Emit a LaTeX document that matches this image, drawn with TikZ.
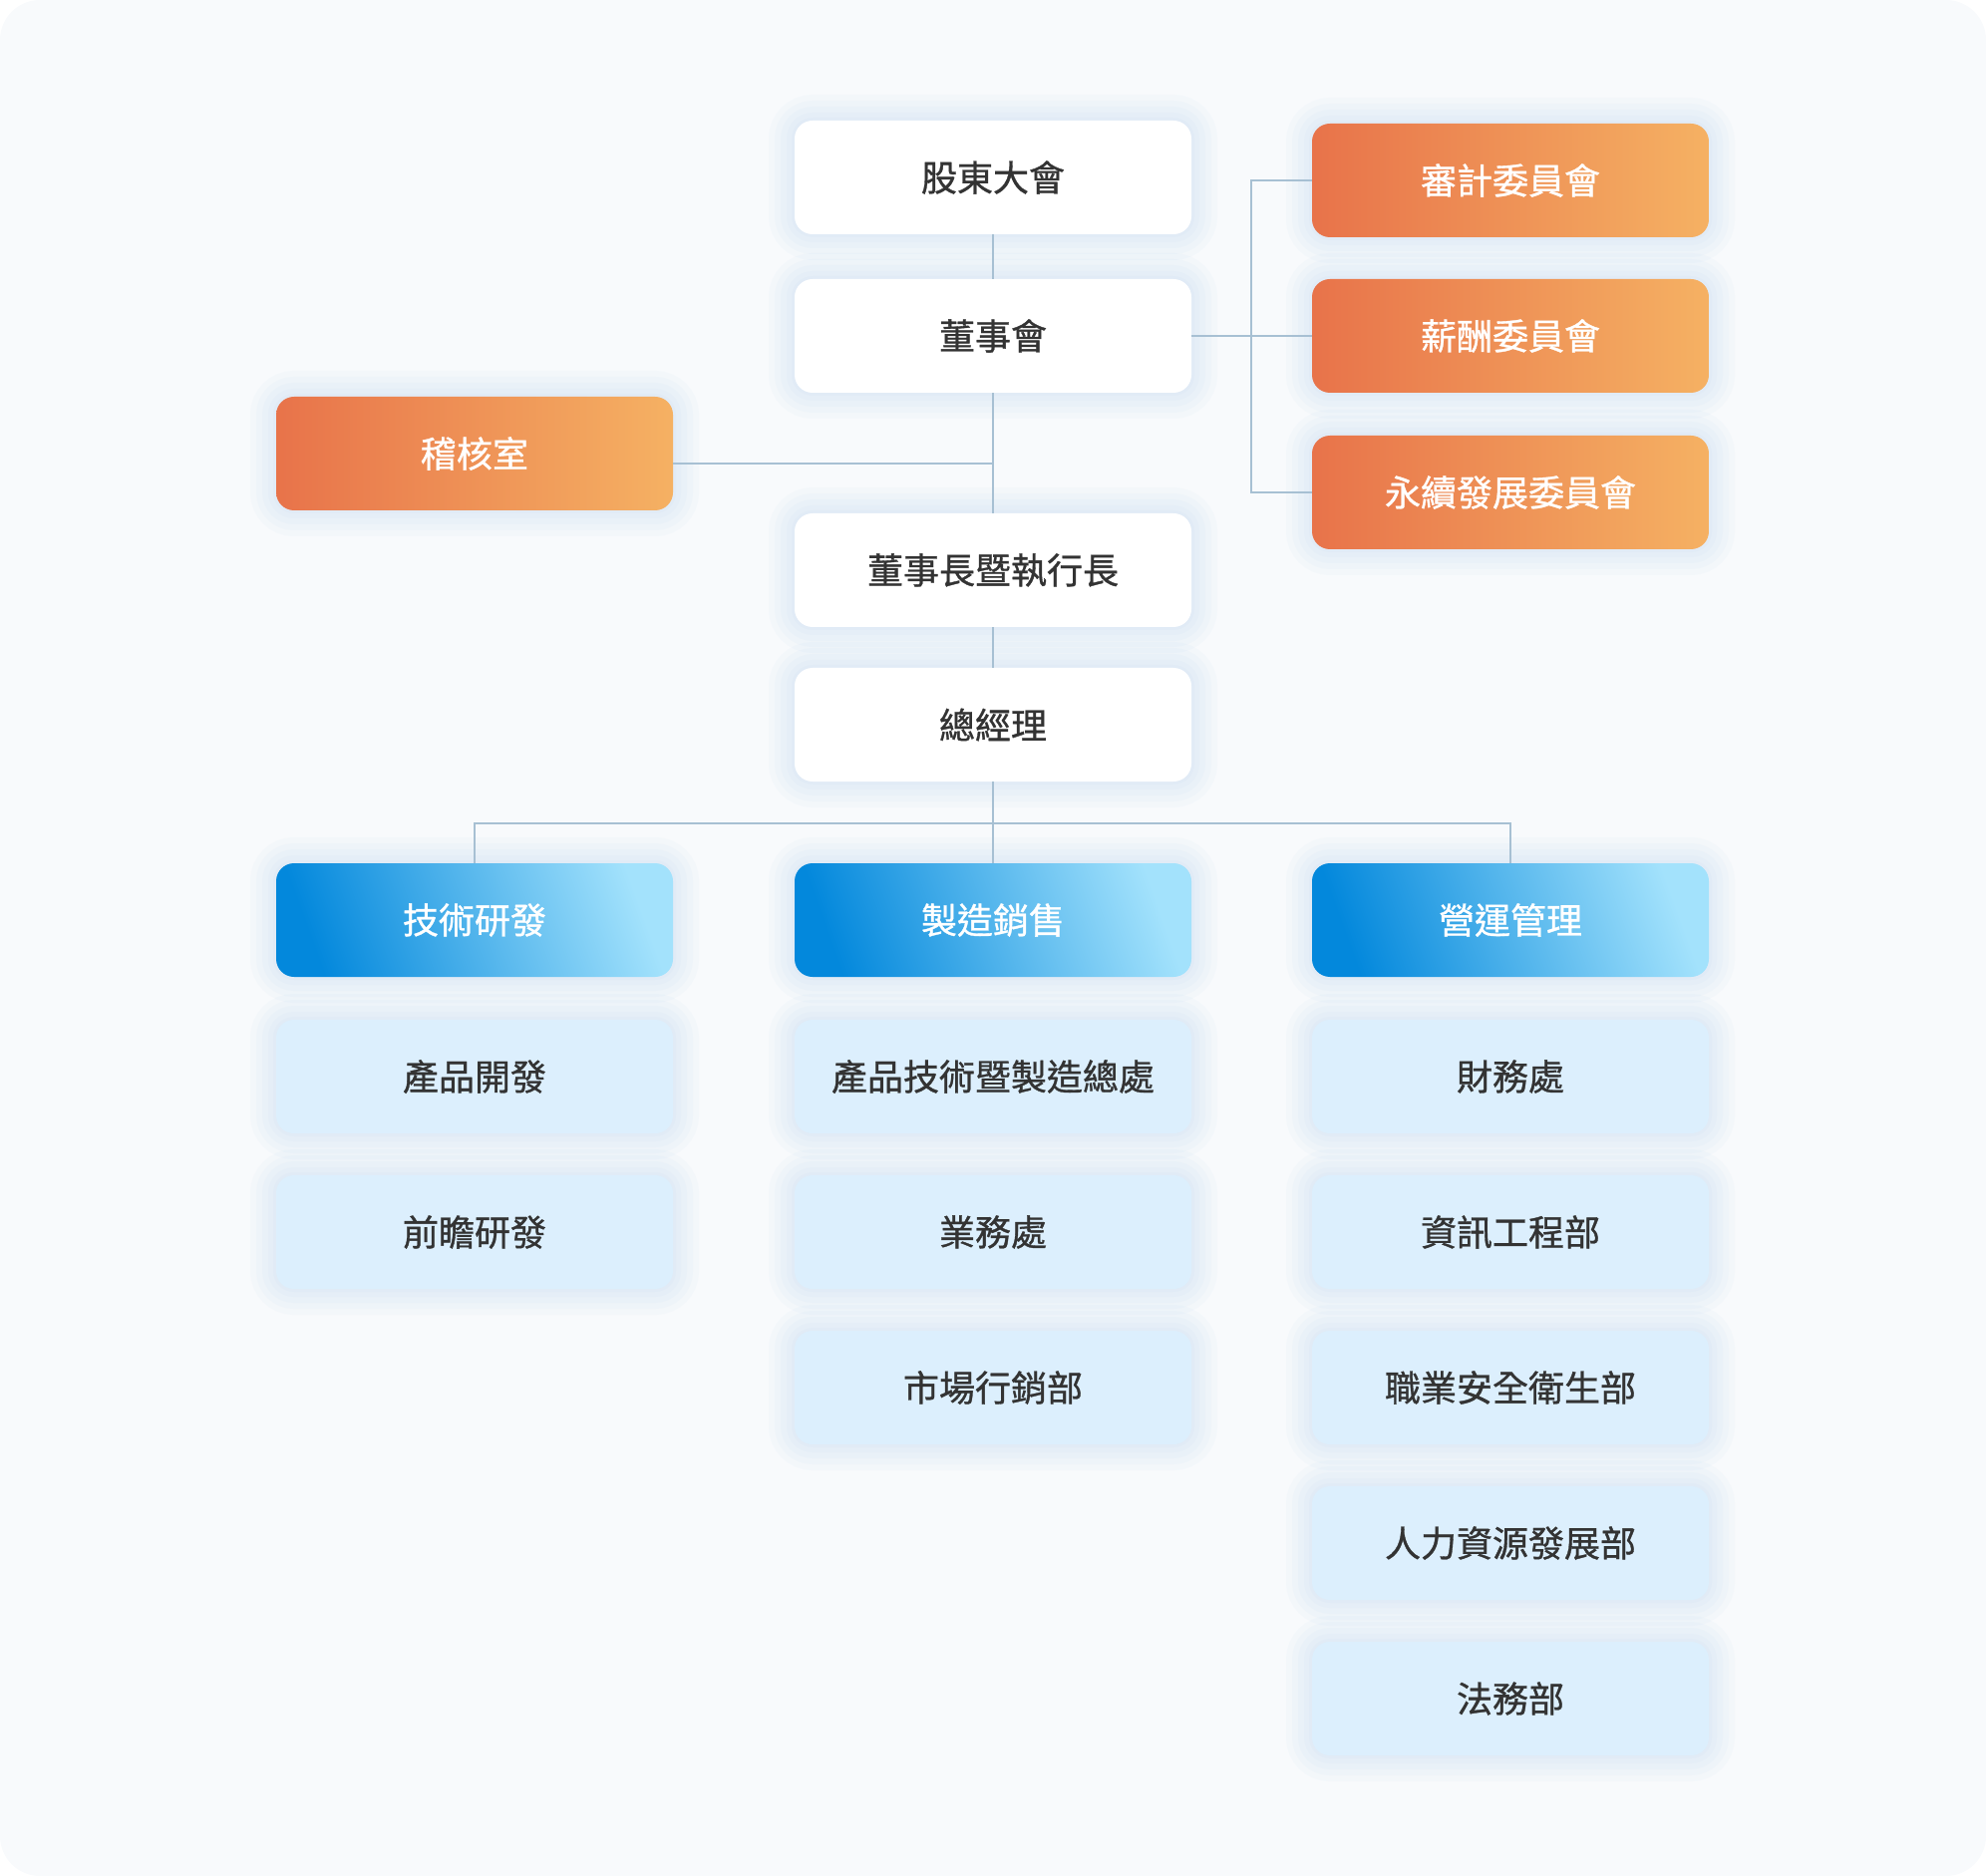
\documentclass[tikz,border=0pt]{standalone}
\usepackage{fontspec}
\setmainfont{Noto Sans CJK TC}
\newfontfamily\midfont{Noto Sans CJK TC}[FakeBold=0.9]
\usetikzlibrary{positioning}

\definecolor{pagebg}{HTML}{F8FAFC}
\definecolor{linec}{HTML}{A7C0D3}
\definecolor{txt}{HTML}{333333}
\definecolor{orgL}{HTML}{E8734A}
\definecolor{orgR}{HTML}{F5B163}
\definecolor{bluL}{HTML}{0388DC}
\definecolor{bluR}{HTML}{A3E2FC}
\definecolor{subc}{HTML}{DCEFFD}
\definecolor{shad}{HTML}{A8CBEA}

\tikzset{
  halo/.style={preaction={draw=shad, line width=#1, draw opacity=0.06}},
  box/.style={rounded corners=9pt, minimum width=199pt, minimum height=57pt, inner sep=0pt,
    font=\fontsize{18}{20}\selectfont\midfont, text=txt,
    halo=26pt, halo=20pt, halo=14pt, halo=8pt, halo=3pt},
  plainbox/.style={box, fill=white},
  orgbox/.style={box, text=white, left color=orgL, right color=orgR},
  blubox/.style={box, text=white, left color=bluL, right color=bluR, shading angle=110},
  subbox/.style={box, fill=subc},
  link/.style={linec, line width=1pt}
}

\begin{document}
\begin{tikzpicture}[x=0.5pt,y=-0.5pt]
    \useasboundingbox (0,0) rectangle (1992,1882);
    \fill [pagebg, rounded corners=20pt] (0,0) rectangle (1992,1882);

    \node [plainbox] (gm) at (996,178) {股東大會};
    \node [plainbox] (bod) at (996,337) {董事會};
    \node [orgbox] (audit) at (476,455) {稽核室};
    \node [plainbox] (ceo) at (996,572) {董事長暨執行長};
    \node [plainbox] (pres) at (996,727) {總經理};
    \node [orgbox] (c1) at (1515,181) {審計委員會};
    \node [orgbox] (c2) at (1515,337) {薪酬委員會};
    \node [orgbox] (c3) at (1515,494) {永續發展委員會};

    \node [blubox] (rd) at (476,923) {技術研發};
    \node [blubox] (ms) at (996,923) {製造銷售};
    \node [blubox] (op) at (1515,923) {營運管理};
    \foreach \t [count=\i] in {產品開發,前瞻研發}
        \node [subbox] (rd\i) at (476,{924+156*\i}) {\t};
    \foreach \t [count=\i] in {產品技術暨製造總處,業務處,市場行銷部}
        \node [subbox] (ms\i) at (996,{924+156*\i}) {\t};
    \foreach \t [count=\i] in {財務處,資訊工程部,職業安全衛生部,人力資源發展部,法務部}
        \node [subbox] (op\i) at (1515,{924+156*\i}) {\t};

    \coordinate (ja) at (996,465);
    \coordinate (jc) at (1255,337);
    \coordinate (jb) at (996,826);
    \draw [link] (gm) -- (bod);
    \draw [link] (bod) -- (ceo);
    \draw [link] (audit.east |- ja) -- (ja);
    \draw [link] (bod) -- (c2);
    \draw [link] (c1.west) -| (jc) |- (c3.west);
    \draw [link] (ceo) -- (pres);
    \draw [link] (pres) -- (ms);
    \draw [link] (rd.north) |- (jb) -| (op.north);
\end{tikzpicture}
\end{document}
